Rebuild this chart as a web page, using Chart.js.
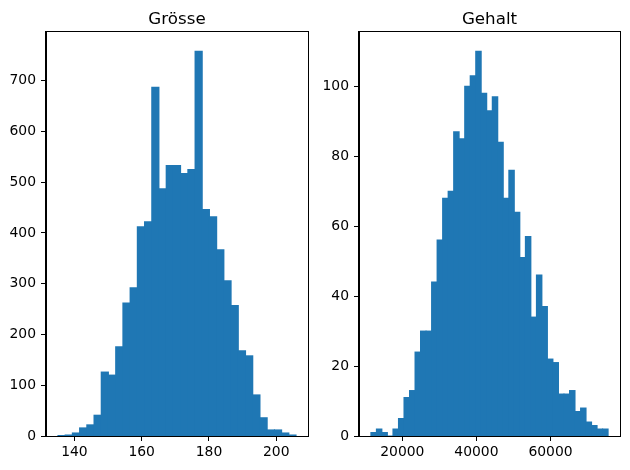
<!DOCTYPE html>
<html>
<head>
<meta charset="utf-8">
<script src="https://cdn.jsdelivr.net/npm/chart.js@4.4.1/dist/chart.umd.min.js"></script>
<style>
  html, body { margin: 0; padding: 0; background: #fff; }
  #wrap { position: relative; width: 630px; height: 470px; }
  canvas { position: absolute; top: 0; }
</style>
</head>
<body>
<div id="wrap">
  <canvas id="c1" width="315" height="470" style="left:0;width:315px;height:470px"></canvas>
  <canvas id="c2" width="315" height="470" style="left:315px;width:315px;height:470px"></canvas>
</div>
<script>
// ---- Data: Grösse (height) histogram ----
const sizeTitle = "Grösse";
const sizeBinLow = 135.1;
const sizeBinHigh = 205.9;
const sizeCounts = [1, 2, 6, 16, 22, 41, 126, 120, 176, 262, 292, 412, 422, 687, 487, 533, 533,
                    517, 525, 758, 446, 432, 367, 306, 257, 168, 158, 81, 36, 12, 12, 6, 2];
const sizeXTicks = [140, 160, 180, 200];
const sizeYTicks = [0, 100, 200, 300, 400, 500, 600, 700];

// ---- Data: Gehalt (salary) histogram ----
const salaryTitle = "Gehalt";
const salaryBinLow = 11500;
const salaryBinHigh = 75550;
const salaryCounts = [1, 2, 1, 0, 2, 5, 11, 13, 24, 30, 30, 44, 56, 68, 70, 87, 85, 100, 103, 110,
                      98, 93, 97, 84, 68, 76, 64, 51, 57, 34, 46, 37, 22, 21, 12, 12, 13, 7, 8, 4, 3, 2, 2];
const salaryXTicks = [20000, 40000, 60000];
const salaryYTicks = [0, 20, 40, 60, 80, 100];

const BAR_COLOR = '#1f77b4';
const FONT = "'DejaVu Sans', sans-serif";

function histPoints(lo, hi, counts) {
  const w = (hi - lo) / counts.length;
  return counts.map((c, i) => ({ x: lo + (i + 0.5) * w, y: c }));
}

const framePlugin = {
  id: 'frame',
  afterDraw(chart, args, opts) {
    const { ctx, chartArea: a } = chart;
    ctx.save();
    ctx.strokeStyle = '#000';
    ctx.lineWidth = 1;
    ctx.strokeRect(Math.round(a.left) - 0.5, Math.round(a.top) - 0.5,
                   Math.round(a.right - a.left) + 1, Math.round(a.bottom - a.top) + 1);
    ctx.fillStyle = '#000';
    ctx.font = "16.7px " + FONT;
    ctx.textAlign = 'center';
    ctx.textBaseline = 'alphabetic';
    ctx.fillText(opts.text, (a.left + a.right) / 2, a.top - 8);
    ctx.restore();
  }
};

function makeChart(id, title, lo, hi, counts, xTicks, yTicks, yAxisWidth, padRight) {
  const span = hi - lo;
  const xMin = lo - 0.05 * span, xMax = hi + 0.05 * span;
  const yMax = Math.max(...counts) * 1.05;
  return new Chart(document.getElementById(id), {
    type: 'bar',
    data: {
      datasets: [{
        data: histPoints(lo, hi, counts),
        backgroundColor: BAR_COLOR,
        borderWidth: 0,
        inflateAmount: 0.5,
        barPercentage: 1,
        categoryPercentage: 1,
        grouped: false
      }]
    },
    options: {
      responsive: false,
      animation: false,
      devicePixelRatio: 1,
      layout: { padding: { left: 0, right: padRight, top: 32, bottom: 0 } },
      plugins: {
        legend: { display: false },
        tooltip: { enabled: false },
        frame: { text: title }
      },
      scales: {
        x: {
          type: 'linear',
          min: xMin, max: xMax,
          offset: false,
          afterBuildTicks: s => { s.ticks = xTicks.map(v => ({ value: v })); },
          afterFit: s => { s.height = 34; },
          grid: { display: true, offset: false, drawOnChartArea: false, drawTicks: true, tickLength: 5, tickColor: '#000', tickWidth: 1 },
          border: { display: true, color: '#000', width: 1 },
          ticks: { color: '#000', font: { family: FONT, size: 13.9 }, padding: 3, maxRotation: 0, autoSkip: false,
                   callback: v => String(v) }
        },
        y: {
          type: 'linear',
          min: 0, max: yMax,
          afterBuildTicks: s => { s.ticks = yTicks.map(v => ({ value: v })); },
          afterFit: s => { s.width = yAxisWidth; },
          grid: { display: true, offset: false, drawOnChartArea: false, drawTicks: true, tickLength: 5, tickColor: '#000', tickWidth: 1 },
          border: { display: true, color: '#000', width: 1 },
          ticks: { color: '#000', font: { family: FONT, size: 13.9 }, padding: 5, autoSkip: false,
                   callback: v => String(v) }
        }
      }
    },
    plugins: [framePlugin]
  });
}

makeChart('c1', sizeTitle, sizeBinLow, sizeBinHigh, sizeCounts, sizeXTicks, sizeYTicks, 46, 7);
makeChart('c2', salaryTitle, salaryBinLow, salaryBinHigh, salaryCounts, salaryXTicks, salaryYTicks, 44, 10);
</script>
</body>
</html>
